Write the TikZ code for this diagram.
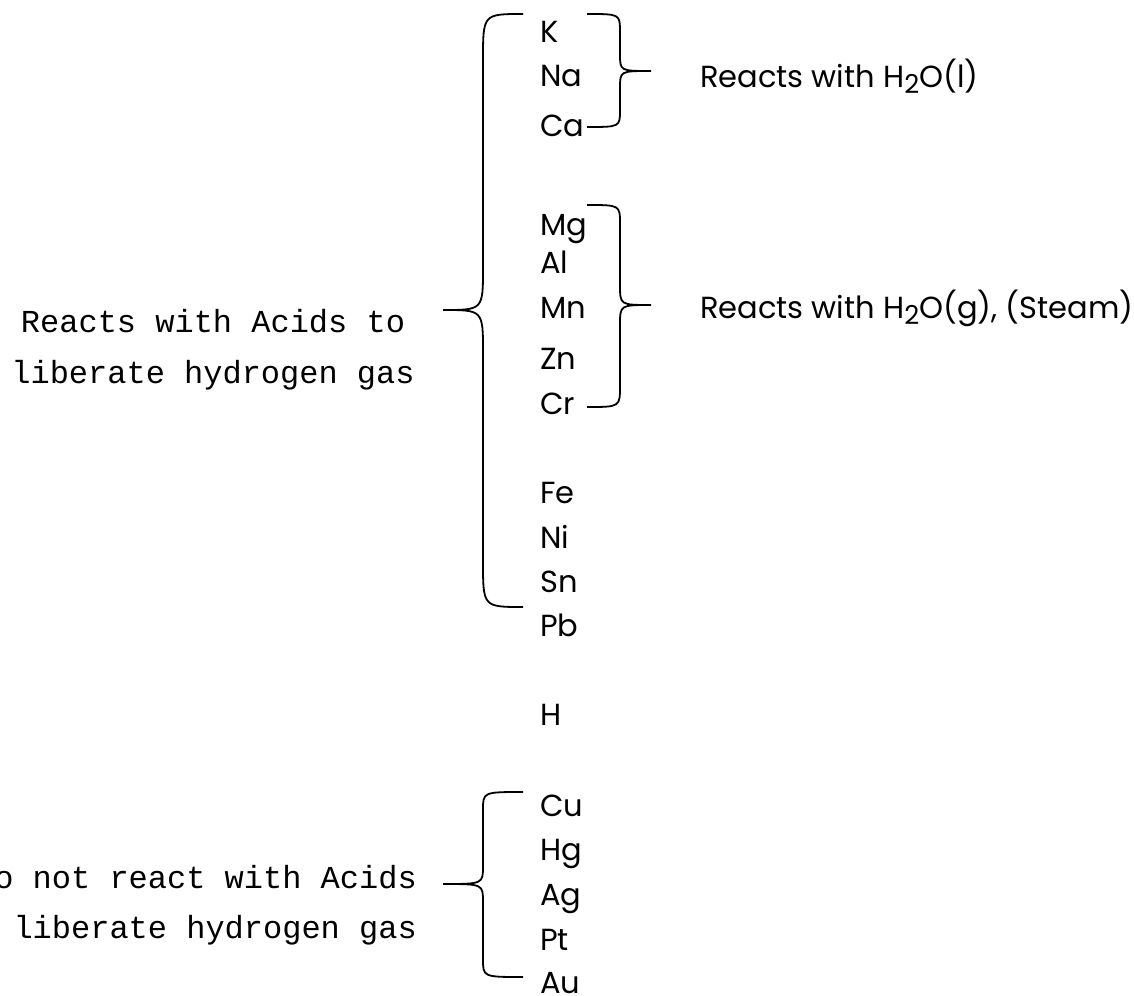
\documentclass[tikz,border=0pt]{standalone}
\usepackage{fontspec}
\setmainfont{Poppins}
\newfontfamily\courfont{Liberation Mono}
\newcommand\subtwo{\raisebox{-6pt}{\fontsize{26}{26}\selectfont 2}}
\begin{document}
\begin{tikzpicture}[x=1pt,y=-1pt,
  elem/.style={anchor=base west,inner sep=0pt,font=\fontsize{30.5}{36}\selectfont},
  note/.style={anchor=base west,inner sep=0pt,font=\fontsize{30.5}{36}\selectfont},
  mono/.style={inner sep=0pt,font=\courfont\fontsize{32}{38}\selectfont},
  bracepath/.style={draw=black,line width=1.8pt}]
\useasboundingbox (0,0) rectangle (1134,995);
% elements
\node[elem] (K)  at (540,43)  {K};
\node[elem] (Na) at (540,87)  {Na};
\node[elem] (Ca) at (540,137) {Ca};
\node[elem] (Mg) at (540,235) {Mg};
\node[elem] (Al) at (540,273) {Al};
\node[elem] (Mn) at (540,318) {Mn};
\node[elem] (Zn) at (540,369) {Zn};
\node[elem] (Cr) at (540,414) {Cr};
\node[elem] (Fe) at (540,503) {Fe};
\node[elem] (Ni) at (540,548) {Ni};
\node[elem] (Sn) at (540,592) {Sn};
\node[elem] (Pb) at (540,636) {Pb};
\node[elem] (H)  at (540,725) {H};
\node[elem] (Cu) at (540,816) {Cu};
\node[elem] (Hg) at (540,860) {Hg};
\node[elem] (Ag) at (540,905) {Ag};
\node[elem] (Pt) at (540,950) {Pt};
\node[elem] (Au) at (540,993) {Au};
% notes
\node[note] (water) at (700,88)  {Reacts with H\subtwo O(l)};
\node[note] (steam) at (700,318) {Reacts with H\subtwo O(g), (Steam)};
\node[mono,anchor=base] (acidA) at (213,332) {Reacts with Acids to};
\node[mono,anchor=base] (acidB) at (213,383) {liberate hydrogen gas};
\node[mono,anchor=base east] (noA) at (417,888) {Do not react with Acids};
\node[mono,anchor=base east] (noB) at (417,938) {to liberate hydrogen gas};
% big brace
\coordinate (bigT) at (523,14);
\coordinate (bigTip) at (443,310);
\coordinate (bigB) at (523,607);
\draw[bracepath] (bigT) .. controls (483,14) .. (483,60) -- (483,268)
  .. controls (483,310) .. (bigTip) .. controls (483,310) .. (483,352)
  -- (483,561) .. controls (483,607) .. (bigB);
% water brace
\coordinate (wT) at (587,14);
\coordinate (wTip) at (651,71);
\coordinate (wB) at (587,127);
\draw[bracepath] (wT) .. controls (620,14) .. (620,32) -- (620,54)
  .. controls (620,71) .. (wTip) .. controls (620,71) .. (620,88)
  -- (620,110) .. controls (620,127) .. (wB);
% steam brace
\coordinate (sT) at (587,205);
\coordinate (sTip) at (651,305);
\coordinate (sB) at (587,407);
\draw[bracepath] (sT) .. controls (620,205) .. (620,224) -- (620,285)
  .. controls (620,305) .. (sTip) .. controls (620,305) .. (620,325)
  -- (620,386) .. controls (620,407) .. (sB);
% lower brace
\coordinate (lT) at (523,792);
\coordinate (lTip) at (443,884);
\coordinate (lB) at (523,977);
\draw[bracepath] (lT) .. controls (483,792) .. (483,810) -- (483,866)
  .. controls (483,884) .. (lTip) .. controls (483,884) .. (483,902)
  -- (483,959) .. controls (483,977) .. (lB);
\end{tikzpicture}
\end{document}
